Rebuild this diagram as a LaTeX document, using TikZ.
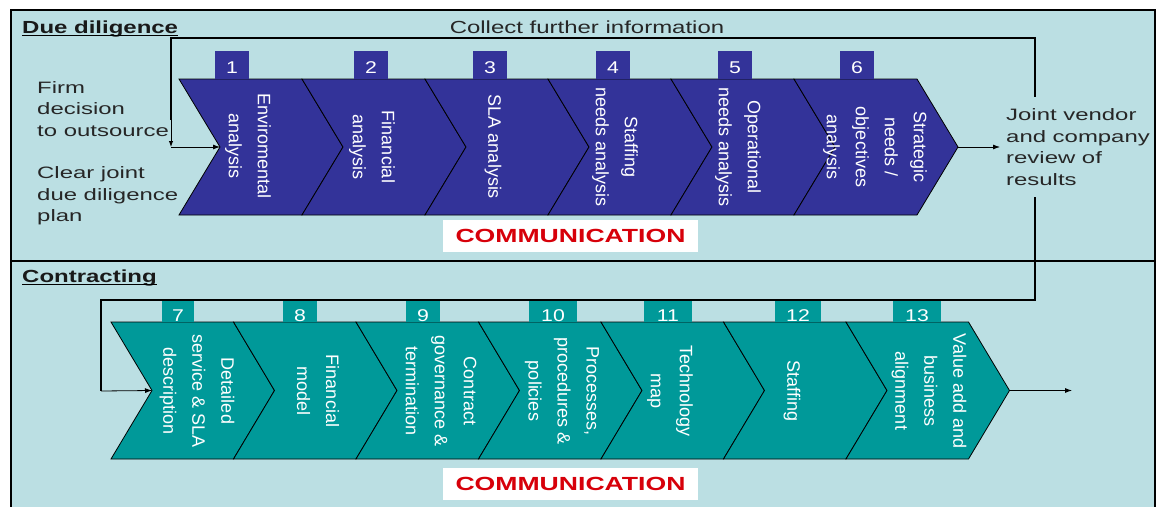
\documentclass[tikz,border=0pt]{standalone}
\usepackage{fontspec}
\setmainfont{Liberation Sans}
\newfontfamily\widefont[FakeStretch=1.45]{Liberation Sans}
\newfontfamily\headfont[FakeStretch=1.37]{Liberation Sans}
\newfontfamily\commfont[FakeStretch=1.4]{Liberation Sans}
\newfontfamily\numfont[FakeStretch=1.25]{Liberation Sans}
\usetikzlibrary{arrows.meta, calc}
\definecolor{panelbg}{RGB}{187,223,227}
\definecolor{ddblue}{RGB}{51,51,153}
\definecolor{ctteal}{RGB}{0,153,153}
\definecolor{commred}{RGB}{215,0,10}
% chevron: name, left, top, width, half height, colour
\newcommand{\chev}[6]{%
  \filldraw[chevron, fill=#6] (#2,#3) -- ++(#4,0) -- ++(41,#5) coordinate (#1tip)
    -- ++(-41,#5) -- ++(-#4,0) -- ++(41,-#5) coordinate (#1notch) -- cycle;}

\begin{document}
\begin{tikzpicture}[x=1pt, y=-1pt,
    chevron/.style={draw=black, line width=0.8pt},
    tab/.style={inner sep=0pt, text=white, text depth=0pt, font=\numfont\fontsize{17}{17}\selectfont},
    steptext/.style={rotate=-90, align=center, text=white, inner sep=0pt, font=\fontsize{18}{29}\selectfont},
    side/.style={align=left, inner ysep=11.5pt, inner xsep=6pt, text=black!85, font=\widefont\fontsize{16.5}{21.7}\selectfont},
    heading/.style={inner sep=0pt, anchor=base west, text=black!90, font=\headfont\bfseries\fontsize{17.5}{20}\selectfont},
    commbox/.style={fill=white, minimum width=255pt, minimum height=32pt, inner sep=0pt, text=commred, font=\commfont\bfseries\fontsize{19}{20}\selectfont},
    loopline/.style={line width=1.5pt},
    arrow/.style={line width=0.8pt, -{Latex[length=7pt,width=5pt]}}]
    \useasboundingbox (0,0) rectangle (1156,506);
    % Panels
    \draw[line width=1.5pt, fill=panelbg] (11,10) rectangle (1155,520);
    \draw[line width=1.5pt] (11,261) -- (1155,261);
    \node[heading] (dd) at (22,33) {Due diligence};
    \draw[line width=1.5pt] ([yshift=-2.5pt]dd.base west) -- ([yshift=-2.5pt]dd.base east);
    \node[heading] (ct) at (22,282) {Contracting};
    \draw[line width=1.5pt] ([yshift=-2.5pt]ct.base west) -- ([yshift=-2.5pt]ct.base east);

    % Side texts
    \node[side, anchor=west, inner ysep=2pt] (firm) at (31,109) {Firm\\decision\\to outsource};
    \node[side, anchor=west, inner ysep=2pt] (plan) at (31,196) {Clear joint\\due diligence\\plan};
    \node[side, anchor=west] (review) at (1000,147) {Joint vendor\\and company\\review of\\results};
    \node[text=black!85, anchor=base, font=\headfont\fontsize{17.5}{20}\selectfont] (collect) at (587,33) {Collect further information};

    % Feedback loops
    \coordinate (fbtr) at (1035,38);
    \coordinate (fbtl) at (171,38);
    \coordinate (fbin) at (171,147);
    \coordinate (fbbr) at (1035,300);
    \coordinate (fbbl) at (101,300);
    \draw[loopline] (review.north -| fbtr) -- (fbtr) -- (fbtl) -- (171,120);
    \draw[line width=1pt, -{Latex[length=6pt,width=4.5pt]}] (171,120) -- (fbin);
    \draw[loopline] (review.south -| fbbr) -- (fbbr) -- (fbbl) -- (101,391);

    % Due diligence steps
    \chev{c1}{179}{79}{123}{68}{ddblue}
    \chev{c2}{302}{79}{123}{68}{ddblue}
    \chev{c3}{425}{79}{123}{68}{ddblue}
    \chev{c4}{548}{79}{123}{68}{ddblue}
    \chev{c5}{671}{79}{123}{68}{ddblue}
    \chev{c6}{794}{79}{123}{68}{ddblue}
    \node[tab, fill=ddblue, minimum width=34pt, minimum height=28pt, text height=16pt] (t1) at (232,65) {1};
    \node[tab, fill=ddblue, minimum width=34pt, minimum height=28pt, text height=16pt] (t2) at (371,65) {2};
    \node[tab, fill=ddblue, minimum width=34pt, minimum height=28pt, text height=16pt] (t3) at (490,65) {3};
    \node[tab, fill=ddblue, minimum width=34pt, minimum height=28pt, text height=16pt] (t4) at (613,65) {4};
    \node[tab, fill=ddblue, minimum width=34pt, minimum height=28pt, text height=16pt] (t5) at (735,65) {5};
    \node[tab, fill=ddblue, minimum width=34pt, minimum height=28pt, text height=16pt] (t6) at (857,65) {6};
    \node[steptext] (s1) at (248,146) {Enviromental\\analysis};
    \node[steptext] (s2) at (372,147) {Financial\\analysis};
    \node[steptext] (s3) at (493,147) {SLA analysis};
    \node[steptext] (s4) at (615,147) {Staffing\\needs analysis};
    \node[steptext] (s5) at (738,147) {Operational\\needs analysis};
    \node[steptext] (s6) at (875,147) {Strategic\\needs /\\objectives\\analysis};
    \draw[arrow] (fbin) -- (c1notch);
    \draw[arrow] (c6tip) -- (review.west);
    \node[commbox] (comm1) at (570.5,236) {COMMUNICATION};

    % Contracting steps
    \chev{c7}{111}{322}{122.5}{68.5}{ctteal}
    \chev{c8}{233.5}{322}{122.5}{68.5}{ctteal}
    \chev{c9}{356}{322}{122.5}{68.5}{ctteal}
    \chev{c10}{478.5}{322}{122.5}{68.5}{ctteal}
    \chev{c11}{601}{322}{122.5}{68.5}{ctteal}
    \chev{c12}{723.5}{322}{122.5}{68.5}{ctteal}
    \chev{c13}{846}{322}{122.5}{68.5}{ctteal}
    \node[tab, fill=ctteal, minimum width=32pt, minimum height=21pt, text height=20pt] (t7) at (178,311.5) {7};
    \node[tab, fill=ctteal, minimum width=34pt, minimum height=21pt, text height=20pt] (t8) at (300,311.5) {8};
    \node[tab, fill=ctteal, minimum width=34pt, minimum height=21pt, text height=20pt] (t9) at (423,311.5) {9};
    \node[tab, fill=ctteal, minimum width=48pt, minimum height=21pt, text height=20pt] (t10) at (553,311.5) {10};
    \node[tab, fill=ctteal, minimum width=48pt, minimum height=21pt, text height=20pt] (t11) at (668,311.5) {11};
    \node[tab, fill=ctteal, minimum width=46pt, minimum height=21pt, text height=20pt] (t12) at (798,311.5) {12};
    \node[tab, fill=ctteal, minimum width=48pt, minimum height=21pt, text height=20pt] (t13) at (917,311.5) {13};
    \node[steptext] (s7) at (197,391) {Detailed\\service \& SLA\\description};
    \node[steptext] (s8) at (318,391) {Financial\\model};
    \node[steptext] (s9) at (441,391) {Contract\\governance \&\\termination};
    \node[steptext] (s10) at (562,391) {Processes,\\procedures \&\\policies};
    \node[steptext] (s11) at (670,391) {Technology\\map};
    \node[steptext] (s12) at (792,391) {Staffing};
    \node[steptext] (s13) at (929,391) {Value add and\\business\\alignment};
    \coordinate (out) at (1072,390.5);
    \draw[arrow] (101,391) -- (c7notch);
    \draw[arrow] (c13tip) -- (out);
    \node[commbox] (comm2) at (570.5,483.5) {COMMUNICATION};
\end{tikzpicture}
\end{document}
